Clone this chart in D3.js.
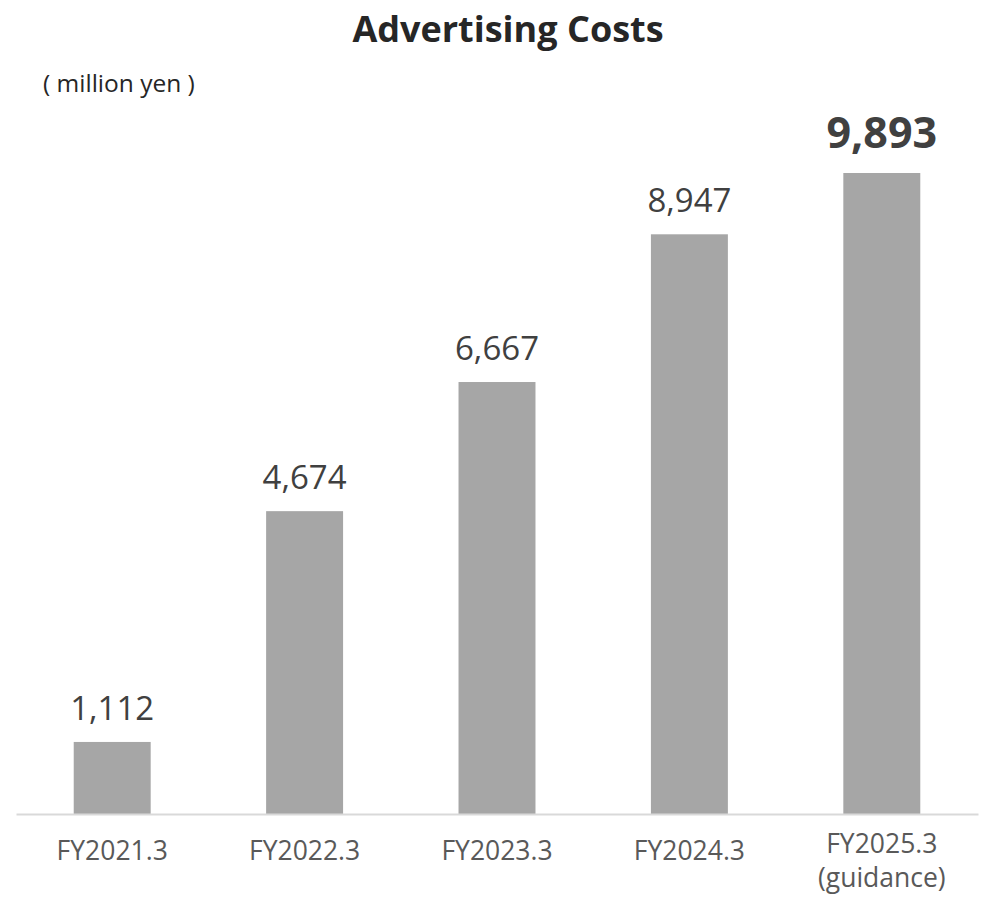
<!DOCTYPE html>
<html><head><meta charset="utf-8">
<script src="https://cdn.jsdelivr.net/npm/d3@7"></script>
<style>body{margin:0;background:#fff}svg{display:block}</style>
</head><body>
<svg id="chart" width="987" height="899"></svg>
<script>
const categories = ["FY2021.3", "FY2022.3", "FY2023.3", "FY2024.3", "FY2025.3"];
const subLabels = ["", "", "", "", "(guidance)"];
const values = [1112, 4674, 6667, 8947, 9893];
const valueLabels = ["1,112", "4,674", "6,667", "8,947", "9,893"];
const emphasis = [false, false, false, false, true];
const titleText = "Advertising Costs";
const unitText = "( million yen )";

const svg = d3.select("#chart");
const font = "'Open Sans', 'Noto Sans', sans-serif";
const baseY = 814;
const x = d3.scaleBand().domain(categories).range([16, 978]).paddingInner(0.6).paddingOuter(0.3);
const y = d3.scaleLinear().domain([0, 9893]).range([baseY, 173]);

svg.append("text").attr("x", 508).attr("y", 42).attr("text-anchor", "middle")
  .attr("font-family", font).attr("font-weight", "bold").attr("font-size", 36)
  .attr("fill", "#262626").text(titleText);
svg.append("text").attr("x", 43).attr("y", 92)
  .attr("font-family", font).attr("font-size", 24.5).attr("fill", "#262626").text(unitText);

svg.selectAll("rect.bar").data(values).join("rect").attr("class", "bar")
  .attr("x", (d, i) => x(categories[i])).attr("width", x.bandwidth())
  .attr("y", d => y(d)).attr("height", d => baseY - y(d)).attr("fill", "#a6a6a6");

const axis = d3.axisBottom(x).tickSize(0).tickFormat(() => "");
const ag = svg.append("g").attr("transform", `translate(0,${baseY})`).call(axis);
ag.select(".domain").attr("stroke", "#d9d9d9").attr("stroke-width", 2);

svg.selectAll("text.cat").data(categories).join("text").attr("class", "cat")
  .attr("x", d => x(d) + x.bandwidth() / 2)
  .attr("y", (d, i) => subLabels[i] ? 853 : 860).attr("text-anchor", "middle")
  .attr("font-family", font).attr("font-size", 26.5).attr("fill", "#595959").text(d => d);
svg.selectAll("text.sub").data(subLabels).join("text").attr("class", "sub")
  .attr("x", (d, i) => x(categories[i]) + x.bandwidth() / 2).attr("y", 887).attr("text-anchor", "middle")
  .attr("font-family", font).attr("font-size", 26.5).attr("fill", "#595959").text(d => d);

svg.selectAll("text.val").data(values).join("text").attr("class", "val")
  .attr("x", (d, i) => x(categories[i]) + x.bandwidth() / 2)
  .attr("y", (d, i) => y(d) - (emphasis[i] ? 25 : 22))
  .attr("text-anchor", "middle").attr("font-family", font)
  .attr("font-size", (d, i) => emphasis[i] ? 43 : 33)
  .attr("font-weight", (d, i) => emphasis[i] ? "bold" : "normal")
  .attr("fill", "#404040").text((d, i) => valueLabels[i]);
</script>
</body></html>
